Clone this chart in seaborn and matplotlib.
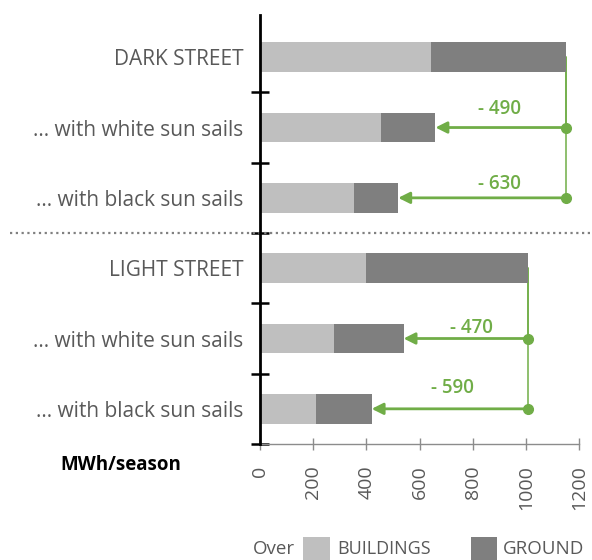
import matplotlib
matplotlib.use("Agg")
import matplotlib.pyplot as plt
import matplotlib.transforms as mtransforms
from matplotlib.patches import Rectangle
import numpy as np
import pandas as pd
import seaborn as sns

# Row labels (top to bottom) and energy split in MWh/season
row_labels = [
    "DARK STREET",
    "... with white sun sails",
    "... with black sun sails",
    "LIGHT STREET",
    "... with white sun sails",
    "... with black sun sails",
]
buildings = [645, 455, 355, 400, 280, 210]
ground = [505, 205, 165, 610, 260, 210]
x_ticks = [0, 200, 400, 600, 800, 1000, 1200]

# Savings: (reference row, improved row, label x, label y offset)
savings = [
    (0, 1, 900, -0.27),
    (0, 2, 900, -0.20),
    (3, 4, 795, -0.15),
    (3, 5, 724, -0.30),
]

LIGHT = "#BFBFBF"
DARK = "#7F7F7F"
GREEN = "#70AD47"
TEXT = "#595959"

sns.set_theme(style="white")
plt.rcParams["font.family"] = ["Open Sans", "DejaVu Sans"]

df = pd.DataFrame({
    "row": [f"r{i}" for i in range(len(row_labels))],
    "buildings": buildings,
    "ground": ground,
})
df["total"] = df["buildings"] + df["ground"]

fig = plt.figure(figsize=(5.92, 5.6), dpi=100)
ax = fig.add_axes([260 / 592, 1 - 444 / 560, (579 - 260) / 592, (444 - 15) / 560])

# Stacked bars: full total in dark grey, buildings share in light grey on top
sns.barplot(data=df, y="row", x="total", color=DARK, saturation=1, width=0.42,
            orient="h", errorbar=None, linewidth=0, ax=ax, zorder=3)
sns.barplot(data=df, y="row", x="buildings", color=LIGHT, saturation=1, width=0.42,
            orient="h", errorbar=None, linewidth=0, ax=ax, zorder=4)

n = len(row_labels)
ax.set_xlim(x_ticks[0], x_ticks[-1])
ax.set_ylim(n - 0.5, -0.6)
ax.set_xlabel("")
ax.set_ylabel("")

# Y axis: thick black spine, category labels, crossing ticks between rows
for s in ["top", "right"]:
    ax.spines[s].set_visible(False)
ax.spines["left"].set_color("black")
ax.spines["left"].set_linewidth(2.0)
ax.spines["left"].set_zorder(6)
ax.spines["bottom"].set_color("#8C8C8C")
ax.spines["bottom"].set_linewidth(1.0)

ax.set_yticks(range(n))
ax.set_yticklabels(row_labels, fontsize=15, color=TEXT)
ax.set_yticks(np.arange(0.5, n, 1.0), minor=True)
ax.tick_params(axis="y", which="major", length=0, pad=12)
ax.tick_params(axis="y", which="minor", direction="inout", length=13, width=1.8,
               color="black", left=True)

ax.set_xticks(x_ticks)
ax.set_xticklabels([str(t) for t in x_ticks], rotation=90, fontsize=14, color=TEXT)
ax.tick_params(axis="x", which="major", direction="inout", length=9, width=1.0,
               color="#8C8C8C", pad=11, bottom=True)
ax.grid(False)

# Separator between the dark and light street groups
trans = mtransforms.blended_transform_factory(fig.transFigure, ax.transData)
ax.plot([10 / 592, 590 / 592], [2.5, 2.5], transform=trans, color="#808080",
        lw=1.6, linestyle=(0, (1, 1.6)), clip_on=False, zorder=5)

# Savings arrows from each reference bar to its improved variant
totals = df["total"].tolist()
for ref, row, lx, dy in savings:
    x0 = totals[ref]
    x1 = totals[row]
    ax.plot([x0, x0], [ref, row], color=GREEN, lw=1.1, zorder=2, clip_on=False)
    ax.annotate("", xy=(x1, row), xytext=(x0, row),
                arrowprops=dict(arrowstyle="-|>", color=GREEN, lw=2.0,
                                mutation_scale=17, shrinkA=0, shrinkB=0),
                zorder=5)
    ax.plot([x0], [row], "o", color=GREEN, ms=7, zorder=6, clip_on=False)
    ax.text(lx, row + dy, f"- {abs(x1 - x0)}", color=GREEN, fontsize=13.5,
            fontweight="semibold", ha="center", va="center", zorder=6)

# Unit label
fig.text(121 / 592, 1 - 465 / 560, "MWh/season", fontsize=13.5, fontweight="bold",
         color="black", ha="center", va="center")

# Legend row at the bottom
ly = 1 - 549 / 560
fig.text(253 / 592, ly, "Over", fontsize=13.5, color=TEXT, ha="left", va="center")
fig.add_artist(Rectangle((303 / 592, 0), 27 / 592, 23 / 560, transform=fig.transFigure,
                         color=LIGHT, lw=0))
fig.text(337 / 592, ly, "BUILDINGS", fontsize=13, color=TEXT, ha="left", va="center")
fig.add_artist(Rectangle((471 / 592, 0), 26 / 592, 23 / 560, transform=fig.transFigure,
                         color=DARK, lw=0))
fig.text(503 / 592, ly, "GROUND", fontsize=13.5, color=TEXT, ha="left", va="center")

fig.savefig("out.png", dpi=100)
